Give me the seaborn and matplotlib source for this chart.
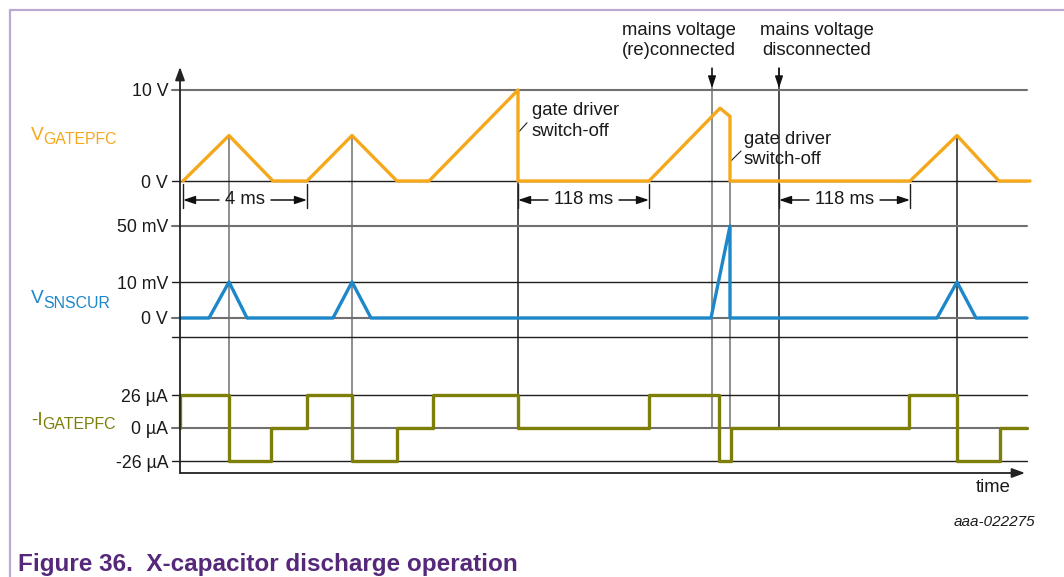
import numpy as np
import matplotlib
matplotlib.use("Agg")
import matplotlib.pyplot as plt
from matplotlib.lines import Line2D
from matplotlib.patches import ConnectionPatch, FancyArrowPatch
import seaborn as sns

# ---- waveform data (time axis in arbitrary, not-to-scale units) ----
gate_t = [3, 49, 93, 127, 172, 217, 249, 338, 338, 469, 540, 550, 550, 730, 777, 819, 850]
gate_v = [0, 5, 0, 0, 5, 0, 0, 10, 0, 0, 8, 7.1, 0, 0, 5, 0, 0]

sense_t = [0, 29, 49, 67, 153, 172, 191, 531, 550, 550, 757, 777, 796, 847]
sense_mv = [0, 0, 10, 0, 0, 10, 0, 0, 50, 0, 0, 10, 0, 0]

cur_t = [0, 0, 49, 91, 127, 172, 217, 253, 338, 469, 539, 551, 729, 777, 820, 847]
cur_ua = [0, 26, -26, 0, 26, -26, 0, 26, 0, 26, -26, 0, 26, -26, 0, 0]

mains_on_t = 532
mains_off_t = 599

gate_ticks = [0, 10]
gate_tick_labels = ["0 V", "10 V"]
sense_ticks = [0, 10, 50]
sense_tick_labels = ["0 V", "10 mV", "50 mV"]
cur_ticks = [-26, 0, 26]
cur_tick_labels = ["-26 µA", "0 µA", "26 µA"]

# ---- style ----
sns.set_style("white")
plt.rcParams["font.family"] = ["Liberation Sans", "DejaVu Sans"]

ORANGE = "#F6A81B"
BLUE = "#1C87C9"
OLIVE = "#7E7E0B"
GRAY = "#707070"
DARK = "#1e1e1e"
PURPLE = "#55287A"
FRAME = "#BBA9D3"

W, H = 1064, 577
fig = plt.figure(figsize=(W / 100, H / 100), dpi=100)
fig.patch.set_facecolor("white")


def fx(p):
    return p / W


def fy(p):
    return 1 - p / H


X0, X1 = 180, 1027
T_MAX = X1 - X0


def panel(top, bottom):
    ax = fig.add_axes([fx(X0), fy(bottom), (X1 - X0) / W, (bottom - top) / H])
    ax.set_facecolor("none")
    for s in ax.spines.values():
        s.set_visible(False)
    return ax


ax_g = panel(90, 181)
ax_s = panel(226, 318)
ax_c = panel(395, 461)

# ---- waveforms ----
sns.lineplot(x=gate_t, y=gate_v, sort=False, estimator=None, ax=ax_g,
             color=ORANGE, lw=2.4, clip_on=False, zorder=5)
sns.lineplot(x=sense_t, y=sense_mv, sort=False, estimator=None, ax=ax_s,
             color=BLUE, lw=2.4, clip_on=False, zorder=5)
sns.lineplot(x=cur_t, y=cur_ua, sort=False, estimator=None, ax=ax_c,
             color=OLIVE, lw=2.4, clip_on=False, zorder=5, drawstyle="steps-post")

# sense-current axis: 0..10 mV linear, 10..50 mV compressed
K = 0.389


def fwd(v):
    v = np.asarray(v, float)
    return np.where(v <= 10, v, 10 + (v - 10) * K)


def inv(u):
    u = np.asarray(u, float)
    return np.where(u <= 10, u, 10 + (u - 10) / K)


ax_s.set_yscale("function", functions=(fwd, inv))

panels = [
    (ax_g, gate_ticks, gate_tick_labels, (0, 10), {10: (GRAY, 1.5), 0: (DARK, 1.0)}),
    (ax_s, sense_ticks, sense_tick_labels, (0, 50), {50: (GRAY, 1.5), 10: (DARK, 1.0), 0: (GRAY, 1.5)}),
    (ax_c, cur_ticks, cur_tick_labels, (-26, 26), {26: (DARK, 1.0), 0: (GRAY, 1.5), -26: (DARK, 1.0)}),
]
TICK_LEN = 8
for ax, ticks, labels, lims, grid in panels:
    ax.set_xlim(0, T_MAX)
    ax.set_ylim(*lims)
    ax.set_xticks([])
    ax.set_yticks(ticks, labels)
    ax.tick_params(axis="y", length=0, pad=8.5, labelsize=12.8, labelcolor="#1a1a1a")
    ax.set_xlabel("")
    ax.set_ylabel("")
    for y, (c, lw) in grid.items():
        ax.axhline(y, xmin=-TICK_LEN / T_MAX, xmax=1, color=c, lw=lw, clip_on=False, zorder=1)

# separator between the sense and current traces
ax_s.add_line(Line2D([-TICK_LEN / T_MAX, 1], [-19 / 92] * 2, transform=ax_s.transAxes,
                     color=DARK, lw=1.0, clip_on=False))

# ---- event markers running through the traces ----
events = [
    (gate_t[1], gate_v[1], 26, GRAY),
    (gate_t[4], gate_v[4], 26, GRAY),
    (gate_t[7], 0, 26, DARK),
    (gate_t[11], 0, 0, GRAY),
    (gate_t[14], gate_v[14], 26, DARK),
]
for t, y_top, y_bot, c in events:
    fig.add_artist(ConnectionPatch(xyA=(t, y_top), coordsA=ax_g.transData,
                                   xyB=(t, y_bot), coordsB=ax_c.transData,
                                   color=c, lw=1.1, zorder=-1))

xt_g = ax_g.get_xaxis_transform()
head = "-|>,head_length=0.6,head_width=0.2"
for t, c in [(mains_on_t, GRAY), (mains_off_t, DARK)]:
    fig.add_artist(ConnectionPatch(xyA=(t, 1.24), coordsA=xt_g,
                                   xyB=(t, 0), coordsB=ax_c.transData,
                                   color=c, lw=1.1, zorder=-1))
    ax_g.annotate("", xy=(t, 1.02), xycoords=xt_g, xytext=(t, 1.24), textcoords=xt_g,
                  arrowprops=dict(arrowstyle=head, mutation_scale=12, color="#111",
                                  lw=1.0, shrinkA=0, shrinkB=0))

ax_g.text(mains_on_t - 33, 1.54, "mains voltage\n(re)connected", transform=xt_g,
          ha="center", va="center", size=13.3, color="#1a1a1a", linespacing=1.25)
ax_g.text(mains_off_t + 38, 1.54, "mains voltage\ndisconnected", transform=xt_g,
          ha="center", va="center", size=13.3, color="#1a1a1a", linespacing=1.25)

# gate driver switch-off notes with short leaders
ax_g.text(gate_t[7] + 14, 6.6, "gate driver\nswitch-off", ha="left", va="center",
          size=13.3, color="#1a1a1a", linespacing=1.25)
ax_g.plot([gate_t[7], gate_t[7] + 9], [5.3, 6.4], color=DARK, lw=0.8, clip_on=False)
ax_g.text(gate_t[11] + 14, 3.5, "gate driver\nswitch-off", ha="left", va="center",
          size=13.3, color="#1a1a1a", linespacing=1.25)
ax_g.plot([gate_t[11], gate_t[11] + 11], [2.1, 3.3], color=DARK, lw=0.8, clip_on=False)

# ---- interval dimensions ----
renderer = fig.canvas.get_renderer()
Y_DIM = -19 / 91
dims = [(gate_t[0], gate_t[3], "4 ms"),
        (gate_t[8], gate_t[9], "118 ms"),
        (mains_off_t, gate_t[13], "118 ms")]
for a, b, label in dims:
    mid = (a + b) / 2
    txt = ax_g.text(mid, Y_DIM, label, transform=xt_g, ha="center", va="center",
                    size=13.3, color="#1a1a1a")
    half = txt.get_window_extent(renderer).width / 2 + 6
    for end, start in ((a, mid - half), (b, mid + half)):
        ax_g.annotate("", xy=(end, Y_DIM), xycoords=xt_g, xytext=(start, Y_DIM), textcoords=xt_g,
                      arrowprops=dict(arrowstyle=head, mutation_scale=12, color="#111",
                                      lw=1.1, shrinkA=0, shrinkB=0))
    for end in (a, b):
        ax_g.add_line(Line2D([end, end], [-0.03, -0.30], transform=xt_g, color=DARK,
                             lw=1.0, clip_on=False))

# ---- main axes with arrowheads ----
axis_kw = dict(arrowstyle="-|>,head_length=0.6,head_width=0.22", mutation_scale=13,
               color="#222", lw=1.3, transform=fig.transFigure, shrinkA=0, shrinkB=0)
fig.add_artist(FancyArrowPatch((fx(180), fy(473)), (fx(180), fy(67)), **axis_kw))
fig.add_artist(FancyArrowPatch((fx(180), fy(473)), (fx(1025), fy(473)), **axis_kw))
fig.text(fx(993), fy(487), "time", ha="center", va="center", size=13.3, color="#1a1a1a")

# ---- signal names with subscripts ----
signals = [("V", "GATEPFC", 140, 144, ORANGE),
           ("V", "SNSCUR", 303, 308, BLUE),
           ("-I", "GATEPFC", 425, 429, OLIVE)]
for main, sub, base, sub_base, c in signals:
    t1 = fig.text(fx(31), fy(base), main, ha="left", va="baseline", size=13.8, color=c)
    x_end = t1.get_window_extent(renderer).x1
    fig.text(x_end / W, fy(sub_base), sub, ha="left", va="baseline", size=11.4, color=c)

# ---- figure id, caption and frame ----
fig.text(fx(1035), fy(522), "aaa-022275", ha="right", va="center", size=11,
         style="italic", color="#1a1a1a")
fig.text(fx(18), fy(564), "Figure 36.  X-capacitor discharge operation", ha="left",
         va="center", size=17.5, weight="bold", color=PURPLE)
fig.add_artist(Line2D([fx(10), 1], [fy(10), fy(10)], transform=fig.transFigure,
                      color=FRAME, lw=1.6))
fig.add_artist(Line2D([fx(10), fx(10)], [fy(10), 0], transform=fig.transFigure,
                      color=FRAME, lw=1.6))

fig.savefig("out.png", dpi=100, facecolor="white")
